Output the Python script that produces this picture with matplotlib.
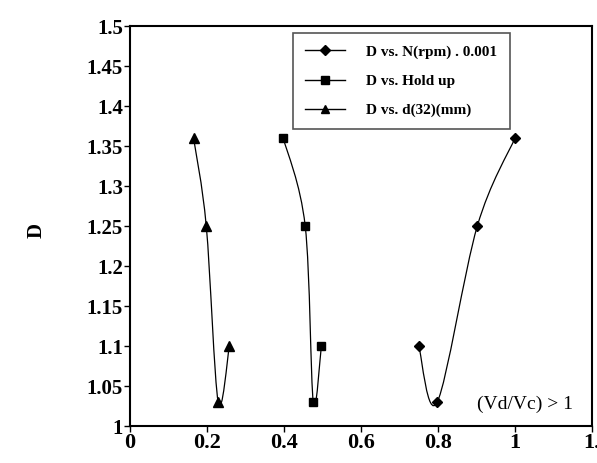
import numpy as np
import matplotlib
matplotlib.use("Agg")
from matplotlib import pyplot as plt
from matplotlib.path import Path
from matplotlib.patches import PathPatch

# data
D = [1.1, 1.03, 1.25, 1.36]
x_rpm = [0.750, 0.798, 0.902, 1.0]
x_holdup = [0.497, 0.476, 0.455, 0.398]
x_d32 = [0.258, 0.229, 0.198, 0.165]

labels = ["D vs. N(rpm) . 0.001", "D vs. Hold up", "D vs. d(32)(mm)"]
markers = ["D", "s", "^"]
xticks = [0, 0.2, 0.4, 0.6, 0.8, 1, 1.2]
xticklabels = ["0", "0.2", "0.4", "0.6", "0.8", "1", "1."]
yticks = [1, 1.05, 1.1, 1.15, 1.2, 1.25, 1.3, 1.35, 1.4, 1.45, 1.5]
yticklabels = ["1", "1.05", "1.1", "1.15", "1.2", "1.25", "1.3", "1.35", "1.4", "1.45", "1.5"]

plt.rcParams["font.family"] = ["Liberation Serif", "DejaVu Serif"]

fig = plt.figure(figsize=(5.97, 4.63), dpi=100)
ax = fig.add_axes([0.2178, 0.0799, 0.7739, 0.8639])
ax.set_xlim(0, 1.2)
ax.set_ylim(1, 1.5)


def smooth_path(xs, ys, sx=385.0, sy=800.0):
    # excel-like smoothed line: bezier segments through the points
    p = np.column_stack([np.asarray(xs) * sx, np.asarray(ys) * sy])
    n = len(p)
    verts = [p[0]]
    codes = [Path.MOVETO]
    for i in range(n - 1):
        p0 = p[i - 1] if i > 0 else p[i]
        p3 = p[i + 2] if i + 2 < n else p[i + 1]
        c1 = p[i] + (p[i + 1] - p0) / 6.0
        c2 = p[i + 1] - (p3 - p[i]) / 6.0
        verts += [c1, c2, p[i + 1]]
        codes += [Path.CURVE4] * 3
    verts = np.array(verts) / [sx, sy]
    return Path(verts, codes)


sizes = {"D": 5.5, "s": 6, "^": 6.5}
for xs, m, lab in zip([x_rpm, x_holdup, x_d32], markers, labels):
    ax.add_patch(PathPatch(smooth_path(xs, D), facecolor="none",
                           edgecolor="black", lw=0.9))
    ax.plot(xs, D, linestyle="none", marker=m, color="black", ms=sizes[m])
    ax.plot([], [], "k-", marker=m, ms=sizes[m] - 0.5, lw=1, label=lab)

ax.set_xticks(xticks)
ax.set_xticklabels(xticklabels)
ax.set_yticks(yticks)
ax.set_yticklabels(yticklabels)
for t in ax.get_xticklabels():
    t.set_fontweight("bold")
    t.set_fontsize(16)
for t in ax.get_yticklabels():
    t.set_fontweight("bold")
    t.set_fontsize(15)
ax.tick_params(direction="out", length=4, width=1, pad=1)
for s in ax.spines.values():
    s.set_linewidth(1.5)

ax.set_ylabel("D", fontsize=15, fontweight="bold")
ax.yaxis.set_label_coords(-0.18, 0.49)
ax.text(1.151, 1.027, "(Vd/Vc) > 1", fontsize=14, ha="right", va="center")

leg = ax.legend(loc="upper left", bbox_to_anchor=(0.353, 0.983),
                borderaxespad=0, fancybox=False, framealpha=1,
                edgecolor="#555555", prop={"weight": "bold", "size": 11},
                handlelength=2.6, labelspacing=1.0, borderpad=0.8,
                handletextpad=1.4)
leg.get_frame().set_linewidth(1.2)

plt.savefig("out.png", dpi=100)
